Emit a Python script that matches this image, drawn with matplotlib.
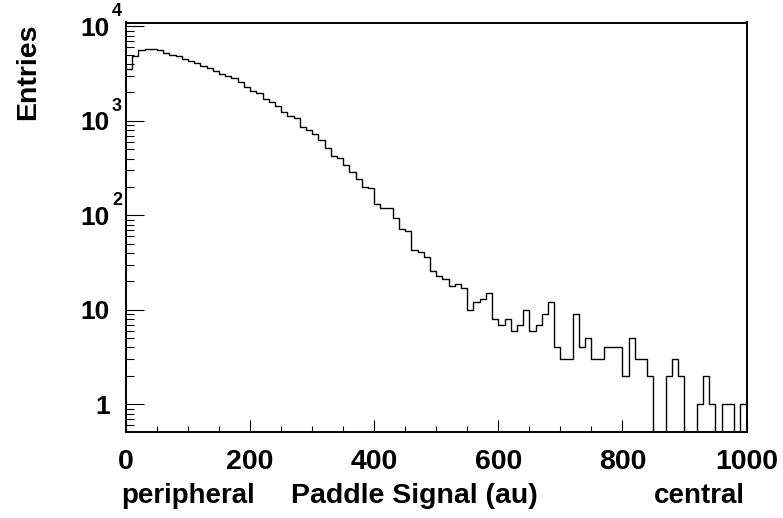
"""Paddle signal distribution (log y), ROOT-style histogram."""
import matplotlib
matplotlib.use("Agg")
import matplotlib.pyplot as plt  # noqa: E402
import numpy as np  # noqa: E402
from matplotlib.ticker import FixedLocator, LogLocator, NullFormatter, MultipleLocator  # noqa: E402

# 100 bins of width 10 au, 0..1000
x_lo, x_hi, n_bins = 0, 1000, 100
entries = [
    3500, 4830, 5600, 5830, 5740, 5600, 5200, 5000, 4830, 4570,
    4320, 4120, 3825, 3670, 3413, 3170, 2970, 2853, 2563, 2290,
    2060, 1960, 1693, 1600, 1428, 1245, 1137, 1076, 871, 809,
    733, 634, 515, 428, 405, 340, 286, 245, 200, 195,
    132, 120, 120, 94, 71, 69, 43, 41, 36, 26,
    23, 21, 18, 19, 17, 10, 12, 13, 15, 8,
    7, 8, 6, 7, 10, 6, 7, 9, 12, 4,
    3, 3, 9, 4, 5, 3, 3, 4, 4, 4,
    2, 5, 3, 3, 2, 0, 0, 2, 3, 2,
    0, 0, 1, 2, 1, 0, 1, 1, 0, 1,
]
y_decades = [1, 10, 100, 1000, 10000]
y_bases = ["1", "10", "10", "10", "10"]
y_exps = ["", "", "2", "3", "4"]

FONT = "Liberation Sans"
plt.rcParams["font.family"] = [FONT, "DejaVu Sans"]
plt.rcParams["font.weight"] = "bold"

fig = plt.figure(figsize=(7.83, 5.18), dpi=100)
ax = fig.add_axes([126 / 783, 1 - 432 / 518, (746.5 - 126) / 783, (432 - 22.5) / 518])

edges = np.linspace(x_lo, x_hi, n_bins + 1)
counts = np.array(entries, dtype=float)
# empty bins fall off the bottom of the log axis
shown = np.where(counts > 0, counts, 1e-3)
ax.stairs(shown, edges, baseline=None, color="black", lw=1.0)

ax.set_yscale("log")
ax.set_xlim(x_lo, x_hi)
ax.set_ylim(0.51, 1.1e4)

for s in ax.spines.values():
    s.set_linewidth(1.4)

ax.xaxis.set_major_locator(MultipleLocator(200))
ax.xaxis.set_minor_locator(MultipleLocator(50))
ax.yaxis.set_major_locator(FixedLocator(y_decades))
ax.yaxis.set_minor_locator(LogLocator(base=10, subs=np.arange(2, 10), numticks=50))
ax.yaxis.set_minor_formatter(NullFormatter())
ax.set_yticklabels(y_bases)

ax.tick_params(axis="both", which="both", direction="in", top=False, right=False, width=0.8)
ax.tick_params(axis="x", which="major", length=8.6, pad=12, labelsize=20.5)
ax.tick_params(axis="x", which="minor", length=4.3)
ax.tick_params(axis="y", which="major", length=12.7, pad=11.5, labelsize=19)
ax.tick_params(axis="y", which="minor", length=6)
for lab in ax.get_xticklabels() + ax.get_yticklabels():
    lab.set_fontweight("bold")

# exponents sit just above and right of the "10"
ytrans = ax.get_yaxis_transform()
for val, ex in zip(y_decades, y_exps):
    if ex:
        ax.annotate(ex, xy=(0, val), xycoords=ytrans, xytext=(-14, 10),
                    textcoords="offset pixels", ha="left", va="baseline",
                    fontsize=13, fontweight="bold")

fig.text(28 / 783, 1 - 23 / 518, "Entries", rotation=90, ha="center", va="top",
         fontsize=20.5, fontweight="bold")
base_y = 1 - 503 / 518
fig.text(121 / 783, base_y, "peripheral", ha="left", va="baseline", fontsize=20, fontweight="bold")
fig.text(414 / 783, base_y, "Paddle Signal (au)", ha="center", va="baseline", fontsize=20.5,
         fontweight="bold")
fig.text(745 / 783, base_y, "central", ha="right", va="baseline", fontsize=20, fontweight="bold")

fig.savefig("out.png", dpi=100)
